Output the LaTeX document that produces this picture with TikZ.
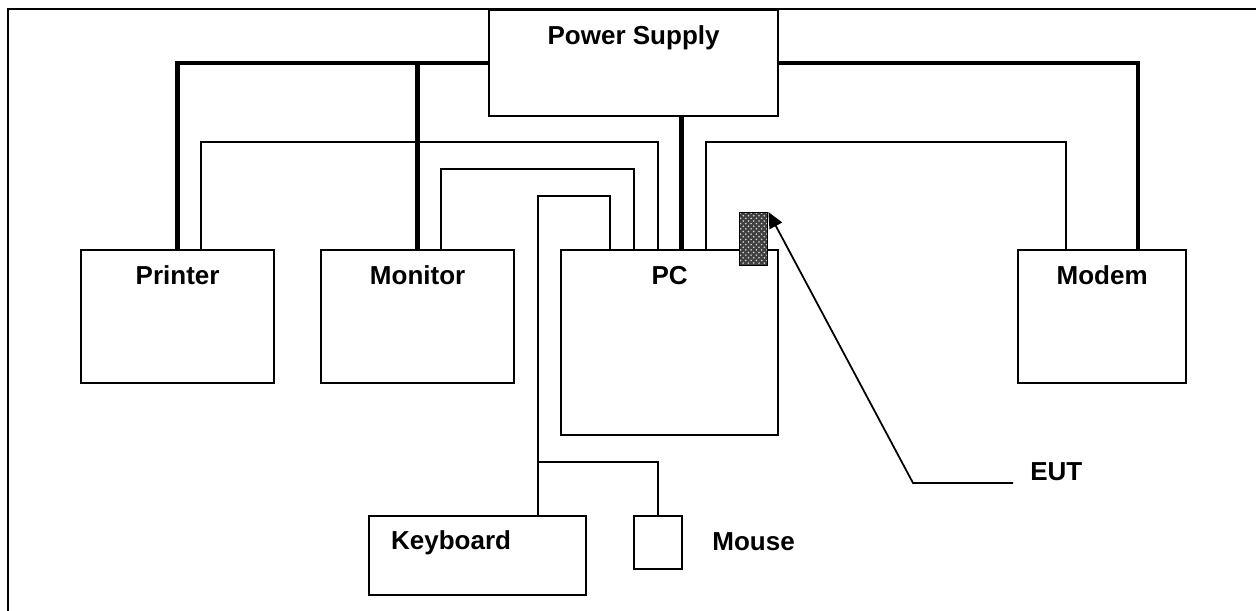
\documentclass[tikz,border=0pt]{standalone}
\usepackage{fontspec}
\setmainfont{Liberation Sans}
\usetikzlibrary{arrows.meta, patterns}

\tikzset{
    equipo/.style 2 args={draw, line width=1.3pt, minimum width=#1, minimum height=#2, anchor=north west, inner sep=0pt},
    rotulo/.style={label={[anchor=base, yshift=-0.72cm]north:#1}},
    cable/.style={line width=1pt},
    bus/.style={line width=2.6pt},
}

\begin{document}
\begin{tikzpicture}[x=0.02cm, y=-0.02cm, font=\fontsize{14.8}{17}\selectfont\bfseries]
\useasboundingbox (0,0) rectangle (1256,611);

% Marco exterior
\draw[line width=0.9pt] (8,9) rectangle (1400,800);

% Equipos
\node[equipo={5.78cm}{2.12cm}, rotulo=Power Supply] (psu) at (488,9) {};
\node[equipo={3.86cm}{2.66cm}, rotulo=Printer] (printer) at (80,249) {};
\node[equipo={3.86cm}{2.66cm}, rotulo=Monitor] (monitor) at (320,249) {};
\node[equipo={4.34cm}{3.7cm}, rotulo=PC] (pc) at (560,249) {};
\node[equipo={3.36cm}{2.66cm}, rotulo=Modem] (modem) at (1017,249) {};
\node[equipo={4.34cm}{1.58cm}, label={[anchor=base, xshift=-0.53cm, yshift=-0.7cm]north:Keyboard}] (keyboard) at (368,515) {};
\node[equipo={0.96cm}{1.06cm}] (mouse) at (633,515) {};
\node[anchor=base west, inner sep=0pt] (mousetxt) at (712,550) {Mouse};

% Puerto bajo prueba
\node[draw, line width=0.8pt, minimum width=0.56cm, minimum height=1.06cm, anchor=north west, inner sep=0pt,
      preaction={fill=black!75}, pattern=crosshatch dots, pattern color=white!85!black] (port) at (739,212) {};

% Alimentacion (lineas gruesas)
\draw[bus] (psu.west) -| (printer.north);
\draw[bus] (psu.west -| monitor.north) -- (monitor.north);
\draw[bus] (psu.east) -| ([xshift=0.72cm]modem.north);
\draw[bus] ([xshift=0.24cm]pc.north) -- ([xshift=0.24cm]pc.north |- psu.south);

% Cables de senal desde el PC
\foreach \desde/\nivel/\destino/\hasta in {-12/-107/printer/23, -36/-80/monitor/23, 36/-107/modem/-36}
    \draw[cable] ([shift={(\desde,0)}]pc.north) |- ([shift={(\hasta,\nivel)}]\destino.north) -- ([shift={(\hasta,0)}]\destino.north);

% Teclado y raton
\draw[cable] ([shift={(-60,0)}]pc.north) |- ([shift={(60,-319)}]keyboard.north) -- ([shift={(60,0)}]keyboard.north);
\coordinate (split) at ([shift={(60,-53)}]keyboard.north);
\draw[cable] (split) -| (mouse.north);

% Indicacion EUT
\node[anchor=base west, inner sep=0pt] (eut) at (1030,480) {EUT};
\coordinate (bend) at (913,483);
\draw[cable, -{Triangle[length=9pt, width=8pt]}] ([shift={(-17,3)}]eut.base west) -- (bend) -- (port.north east);

\end{tikzpicture}
\end{document}
